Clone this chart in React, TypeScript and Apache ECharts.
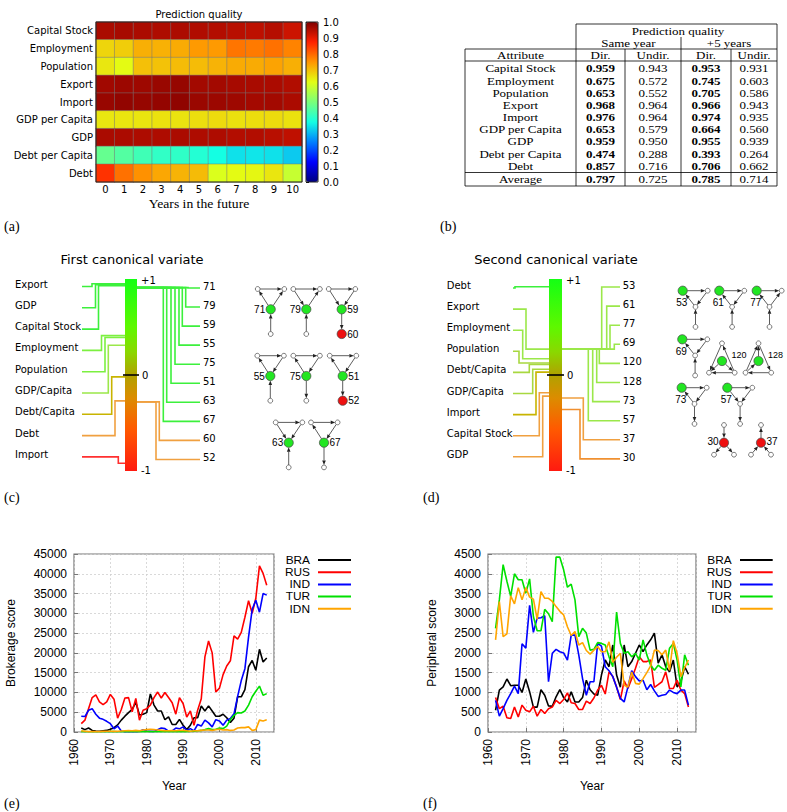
import React, { useEffect, useRef } from 'react';
import * as echarts from 'echarts';

// ---------------- (a) heatmap data ----------------
const heatYears = ['0', '1', '2', '3', '4', '5', '6', '7', '8', '9', '10'];
const heatAttributes = ['Capital Stock', 'Employment', 'Population', 'Export', 'Import', 'GDP per Capita', 'GDP', 'Debt per Capita', 'Debt'];
const qCapitalStock = [0.959, 0.962, 0.958, 0.955, 0.957, 0.953, 0.95, 0.945, 0.94, 0.948, 0.925];
const qEmployment = [0.675, 0.685, 0.72, 0.718, 0.725, 0.745, 0.745, 0.785, 0.78, 0.79, 0.77];
const qPopulation = [0.653, 0.63, 0.7, 0.698, 0.705, 0.705, 0.715, 0.725, 0.725, 0.735, 0.72];
const qExport = [0.968, 0.972, 0.97, 0.975, 0.978, 0.966, 0.966, 0.962, 0.96, 0.958, 0.952];
const qImport = [0.976, 0.982, 0.978, 0.98, 0.984, 0.974, 0.972, 0.97, 0.965, 0.966, 0.958];
const qGdpPerCapita = [0.653, 0.655, 0.656, 0.66, 0.658, 0.664, 0.668, 0.662, 0.666, 0.668, 0.66];
const qGdp = [0.959, 0.958, 0.956, 0.955, 0.958, 0.955, 0.955, 0.95, 0.951, 0.945, 0.938];
const qDebtPerCapita = [0.474, 0.452, 0.428, 0.41, 0.408, 0.393, 0.375, 0.345, 0.35, 0.345, 0.322];
const qDebt = [0.857, 0.79, 0.755, 0.73, 0.715, 0.706, 0.615, 0.63, 0.635, 0.655, 0.59];
const heatRows = [qCapitalStock, qEmployment, qPopulation, qExport, qImport, qGdpPerCapita, qGdp, qDebtPerCapita, qDebt];
const colorbarMin = 0;
const colorbarMax = 1;
const colorbarStep = 0.1;

// ---------------- (b) table data ----------------
const tableTitle = 'Prediction quality';
const tableGroups = ['Same year', '+5 years'];
const tableColumns = ['Attribute', 'Dir.', 'Undir.', 'Dir.', 'Undir.'];
const sameYearDir = ['0.959', '0.675', '0.653', '0.968', '0.976', '0.653', '0.959', '0.474', '0.857'];
const sameYearUndir = ['0.943', '0.572', '0.552', '0.964', '0.964', '0.579', '0.950', '0.288', '0.716'];
const plus5Dir = ['0.953', '0.745', '0.705', '0.966', '0.974', '0.664', '0.955', '0.393', '0.706'];
const plus5Undir = ['0.931', '0.603', '0.586', '0.943', '0.935', '0.560', '0.939', '0.264', '0.662'];
const averageLabel = 'Average';
const averageRow = ['0.797', '0.725', '0.785', '0.714'];

// ---------------- (c) / (d) canonical variates ----------------
const firstLeftNames = ['Export', 'GDP', 'Capital Stock', 'Employment', 'Population', 'GDP/Capita', 'Debt/Capita', 'Debt', 'Import'];
const firstLeftValues = [0.95, 0.94, 0.93, 0.41, 0.39, 0.31, -0.02, -0.27, -0.92];
const firstRightIds = ['71', '79', '59', '55', '75', '51', '63', '67', '60', '52'];
const firstRightValues = [0.91, 0.91, 0.91, 0.91, 0.91, 0.91, 0.91, 0.91, -0.28, -0.28];
const secondLeftNames = ['Debt', 'Export', 'Employment', 'Population', 'Debt/Capita', 'GDP/Capita', 'Import', 'Capital Stock', 'GDP'];
const secondLeftValues = [0.92, 0.27, 0.17, 0.125, 0.11, 0.06, 0.03, -0.185, -0.22];
const secondRightIds = ['53', '61', '77', '69', '120', '128', '73', '57', '37', '30'];
const secondRightValues = [0.27, 0.27, 0.27, 0.27, 0.27, 0.27, 0.27, 0.27, -0.24, -0.36];

const motifsFirst = [
  { id: '71', kind: 'fork', edges: [['TL', 'TR'], ['C', 'TL'], ['C', 'TR'], ['B', 'C']] },
  { id: '79', kind: 'fork', edges: [['TL', 'TR'], ['TL', 'C'], ['C', 'TR'], ['B', 'C']] },
  { id: '59', kind: 'fork', child: '60', edges: [['TL', 'TR'], ['TL', 'C'], ['TR', 'C'], ['C', 'B']] },
  { id: '55', kind: 'fork', edges: [['TL', 'TR'], ['C', 'TL'], ['TR', 'C'], ['B', 'C']] },
  { id: '75', kind: 'fork', edges: [['TL', 'TR'], ['C', 'TL'], ['TR', 'C'], ['C', 'B']] },
  { id: '51', kind: 'fork', child: '52', edges: [['TL', 'TR'], ['C', 'TL'], ['TR', 'C'], ['C', 'B']] },
  { id: '63', kind: 'fork', edges: [['TL', 'TR'], ['TL', 'C'], ['TR', 'C'], ['B', 'C']] },
  { id: '67', kind: 'fork', edges: [['TL', 'TR'], ['C', 'TL'], ['TR', 'C'], ['C', 'B']] },
];
const motifsSecond = [
  { id: '53', kind: 'wedge', edges: [['G', 'TR'], ['M', 'G'], ['TR', 'M'], ['B', 'M']] },
  { id: '61', kind: 'wedge', edges: [['G', 'TR'], ['M', 'G'], ['TR', 'M'], ['B', 'M']] },
  { id: '77', kind: 'wedge', edges: [['G', 'TR'], ['M', 'G'], ['M', 'TR'], ['B', 'M']] },
  { id: '69', kind: 'wedge', edges: [['G', 'TR'], ['M', 'G'], ['TR', 'M'], ['B', 'M']] },
  { id: '120', kind: 'tri', edges: [['Top', 'BL'], ['BR', 'Top'], ['BR', 'BL'], ['G', 'BL'], ['G', 'BR']] },
  { id: '128', kind: 'tri', edges: [['BL', 'Top'], ['Top', 'BR'], ['BR', 'BL'], ['G', 'Top'], ['BL', 'G']] },
  { id: '73', kind: 'wedge', edges: [['G', 'TR'], ['M', 'G'], ['TR', 'M'], ['M', 'B']] },
  { id: '57', kind: 'wedge', edges: [['G', 'TR'], ['G', 'M'], ['TR', 'M'], ['M', 'B']] },
  { id: '30', kind: 'star', edges: [['Top', 'R'], ['R', 'BL'], ['R', 'BR']] },
  { id: '37', kind: 'star', edges: [['R', 'Top'], ['BL', 'R'], ['BR', 'R']] },
];

// ---------------- (e) / (f) time series ----------------
const years = Array.from({ length: 52 }, (_, i) => 1962 + i);
const countries = ['BRA', 'RUS', 'IND', 'TUR', 'IDN'];
const brokerageBRA = [1000, 600, 1000, 400, 250, 200, 300, 400, 700, 1100,
  1800, 3000, 4000, 4900, 5700, 7500, 4300, 4500, 4900, 9600,
  6800, 5300, 5300, 3100, 3800, 1900, 1900, 3200, 1700, 600,
  1700, 3600, 3600, 6600, 5300, 6600, 5300, 4000, 4000, 4500,
  3600, 2400, 3500, 8900, 8900, 10700, 16500, 18100, 15600, 20900,
  17700, 18700];
const brokerageRUS = [2100, 3000, 5900, 8700, 9400, 7600, 6900, 7600, 9500, 8300,
  3500, 5700, 8600, 8700, 5100, 8500, 3000, 5500, 5900, 6800,
  8700, 10100, 8600, 10000, 8700, 7400, 4500, 8700, 7200, 3800,
  5300, 1700, 5500, 8400, 19000, 23000, 20000, 10100, 11100, 14500,
  16700, 18000, 24300, 23500, 25200, 29000, 33200, 30000, 33800, 42000,
  40100, 37100];
const brokerageIND = [4000, 3900, 5500, 5900, 4500, 3500, 3200, 2700, 2100, 800,
  1500, 250, 100, 100, 50, 100, 150, 600, 250, 150,
  150, 600, 1000, 850, 200, 300, 1000, 800, 1300, 400,
  850, 300, 1900, 1500, 3000, 2300, 1300, 3100, 2800, 1700,
  3000, 3400, 4600, 9000, 13000, 16000, 24000, 31000, 33300, 30300,
  35000, 34600];
const brokerageTUR = [100, 100, 50, 50, 50, 50, 50, 50, 100, 100,
  50, 50, 50, 50, 50, 50, 50, 100, 100, 100,
  50, 50, 50, 50, 50, 50, 50, 100, 100, 100,
  150, 200, 300, 400, 600, 850, 600, 700, 1000, 850,
  1500, 3100, 4200, 4900, 4800, 5300, 6800, 8900, 10300, 11600,
  9300, 9700];
const brokerageIDN = [300, 200, 100, 100, 100, 100, 150, 200, 200, 150,
  200, 250, 300, 350, 300, 400, 300, 500, 600, 700,
  600, 500, 400, 300, 300, 350, 300, 400, 400, 300,
  200, 300, 300, 400, 500, 500, 400, 600, 700, 500,
  600, 400, 500, 1000, 1100, 1100, 1300, 400, 600, 3000,
  2800, 3100];

const peripheralBRA = [550, 1060, 1140, 1340, 1170, 1180, 1180, 1000, 1340, 1020,
  630, 630, 1070, 930, 660, 650, 890, 1070, 870, 760,
  1020, 760, 760, 870, 1310, 1070, 960, 930, 1440, 1820,
  1650, 2200, 1440, 1130, 2200, 1650, 1780, 1990, 2200, 2030,
  2200, 2330, 2500, 1740, 1950, 1650, 1520, 1820, 1140, 1270,
  1650, 1460];
const peripheralRUS = [870, 590, 650, 360, 340, 630, 380, 680, 550, 510,
  650, 400, 570, 470, 590, 630, 800, 720, 820, 990,
  740, 720, 570, 570, 780, 720, 860, 1060, 1180, 960,
  1520, 1400, 1140, 820, 1290, 1100, 1350, 1610, 1900, 1780,
  1780, 1820, 1130, 1200, 1270, 1520, 1100, 1100, 1310, 1060,
  970, 630];
const peripheralIND = [800, 400, 590, 800, 970, 1160, 970, 2230, 2120, 3200,
  2520, 2880, 2890, 2940, 1270, 1990, 2090, 2030, 2000, 1820,
  2450, 2450, 1950, 1350, 930, 1270, 1270, 2240, 2170, 1650,
  1550, 1400, 1130, 850, 760, 1140, 1550, 1400, 1290, 1310,
  1070, 1200, 1040, 900, 930, 950, 1060, 1000, 970, 1060,
  1060, 680];
const peripheralTUR = [2620, 3340, 4230, 3810, 3430, 4000, 3850, 3850, 3510, 3870,
  2920, 2560, 2560, 3100, 2990, 2790, 4420, 4420, 4100, 3660,
  3740, 3340, 2410, 2620, 2500, 2070, 2090, 2260, 2240, 2200,
  1900, 1650, 3030, 2240, 1990, 2030, 1900, 1990, 1820, 2330,
  1950, 1690, 1560, 1690, 1610, 1560, 2120, 2240, 1820, 1140,
  1950, 1690];
const peripheralIDN = [2330, 3300, 2410, 2480, 3440, 3240, 3650, 3340, 3650, 3410,
  3360, 2850, 3550, 3380, 3380, 3300, 3170, 3050, 2960, 2660,
  2440, 2540, 2200, 2260, 2060, 1970, 2070, 2160, 2030, 2030,
  2280, 1760, 1890, 1990, 1180, 1140, 1520, 1230, 1210, 1350,
  1500, 1670, 2070, 2060, 1950, 2070, 1560, 2310, 1990, 1400,
  1630, 1820];
const brokerageSeries = [brokerageBRA, brokerageRUS, brokerageIND, brokerageTUR, brokerageIDN];
const peripheralSeries = [peripheralBRA, peripheralRUS, peripheralIND, peripheralTUR, peripheralIDN];

// ---------------- styles ----------------
const countryColors = ['#000000', '#ff0000', '#0000ff', '#00e000', '#ffa500'];
const jet = ['#000080', '#0000ff', '#0080ff', '#14ffe3', '#7aff7a', '#e3ff14', '#ff9600', '#ff2100', '#800000'];
const SANS = '"DejaVu Sans"';
const ARIAL = '"Liberation Sans"';
const SERIF = '"Liberation Serif"';

function connectorColor(v: number) {
  if (v >= 0.85) return '#3cf03c';
  if (v >= 0.35) return '#7cf040';
  if (v >= 0.15) return '#9be84a';
  if (v >= 0.05) return '#a8d840';
  if (v >= -0.1) return '#c8b400';
  if (v >= -0.3) return '#f0a040';
  if (v >= -0.6) return '#f09030';
  return '#ff3030';
}

function buildGraphic() {
  const g: any[] = [];
  const txt = (x: number, y: number, text: string, font: string, align = 'left', extra: any = {}) =>
    g.push({
      type: 'text', x, y, z: 20, silent: true, ...extra,
      style: { text, font, fill: '#000', align, verticalAlign: 'middle', textAlign: align, textVerticalAlign: 'middle' },
    });
  const ln = (x1: number, y1: number, x2: number, y2: number, stroke = '#000', lw = 1, z = 20) =>
    g.push({ type: 'line', z, silent: true, shape: { x1, y1, x2, y2 }, style: { stroke, lineWidth: lw } });

  // ---- (a) ----
  txt(199, 14, 'Prediction quality', `10px ${SANS}`, 'center');
  txt(199, 204, 'Years in the future', `13px ${SERIF}`, 'center', { scaleX: 1.05 });
  g.push({ type: 'rect', z: 20, silent: true, shape: { x: 96, y: 22, width: 206, height: 160 }, style: { fill: 'none', stroke: '#222', lineWidth: 1 } });
  g.push({ type: 'rect', z: 20, silent: true, shape: { x: 306, y: 22, width: 12, height: 160 }, style: { fill: 'none', stroke: '#222', lineWidth: 1 } });
  txt(4, 226, '(a)', `14px ${SERIF}`);

  // ---- (b) table ----
  const colX = [520.5, 600.5, 653, 706, 754];
  const tf = `11px ${SERIF}`;
  const tfb = `bold 11px ${SERIF}`;
  const wide = { scaleX: 1.18 };
  txt(678, 31, tableTitle, tf, 'center', wide);
  txt(628.5, 43, tableGroups[0], tf, 'center', wide);
  txt(729, 43, tableGroups[1], tf, 'center', wide);
  tableColumns.forEach((c, i) => txt(colX[i], 55, c, tf, 'center', wide));
  const rowY0 = 68.7, rowDy = 12.17;
  heatAttributes.forEach((name, r) => {
    const y = rowY0 + r * rowDy;
    txt(colX[0], y, name, tf, 'center', wide);
    txt(colX[1], y, sameYearDir[r], tfb, 'center', wide);
    txt(colX[2], y, sameYearUndir[r], tf, 'center', wide);
    txt(colX[3], y, plus5Dir[r], tfb, 'center', wide);
    txt(colX[4], y, plus5Undir[r], tf, 'center', wide);
  });
  txt(colX[0], 179.3, averageLabel, tf, 'center', wide);
  averageRow.forEach((v, i) => txt(colX[i + 1], 179.3, v, i % 2 === 0 ? tfb : tf, 'center', wide));
  ln(576, 24, 777, 24, '#000', 0.8);
  ln(465, 49, 777, 49, '#000', 0.8);
  ln(465, 61, 777, 61, '#000', 0.8);
  ln(465, 172.5, 777, 172.5, '#000', 0.8);
  ln(465, 186, 777, 186, '#000', 0.8);
  ln(465, 49, 465, 186, '#000', 0.8);
  ln(576, 24, 576, 186, '#000', 0.8);
  ln(625, 49, 625, 186, '#000', 0.8);
  ln(681, 37, 681, 186, '#000', 0.8);
  ln(731, 49, 731, 186, '#000', 0.8);
  ln(777, 24, 777, 186, '#000', 0.8);
  txt(440, 226, '(b)', `14px ${SERIF}`);

  // ---- (c) / (d) ----
  const barStops = [
    { offset: 0, color: '#14ff14' },
    { offset: 0.25, color: '#5ef800' },
    { offset: 0.38, color: '#8ad800' },
    { offset: 0.5, color: '#b0a200' },
    { offset: 0.62, color: '#dc8c00' },
    { offset: 0.78, color: '#ff5a00' },
    { offset: 1, color: '#ff1a10' },
  ];
  const canon = (L: any, title: string, lNames: string[], lVals: number[], rIds: string[], rVals: number[]) => {
    const vy = (v: number) => L.top + ((1 - v) / 2) * (L.bottom - L.top);
    txt(L.titleX, 259, title, `13px ${SANS}`, 'center');
    g.push({
      type: 'rect', z: 8, silent: true,
      shape: { x: L.barX, y: L.top, width: L.barW, height: L.bottom - L.top },
      style: { fill: new echarts.graphic.LinearGradient(0, 0, 0, 1, barStops) },
    });
    ln(L.barX - 2, vy(0), L.barX + L.barW + 2, vy(0), '#000', 1.6, 9);
    const lx = L.barX + L.barW + 4;
    txt(lx, vy(1) + 1, '+1', `10px ${SANS}`);
    txt(lx + 1, vy(0), '0', `10px ${SANS}`);
    txt(lx, vy(-1) - 1, '-1', `10px ${SANS}`);
    lNames.forEach((name, i) => {
      const ly = L.lY0 + i * L.lDy;
      txt(L.lTextX, ly, name, `10px ${SANS}`);
      const y = ly + 2.5;
      const t = vy(lVals[i]);
      g.push({
        type: 'polyline', z: 5, silent: true,
        shape: { points: [[L.lLineX, y], [L.lLanes[i], y], [L.lLanes[i], t], [L.barX, t]] },
        style: { stroke: connectorColor(lVals[i]), lineWidth: 1.6, fill: 'none' },
      });
    });
    rIds.forEach((id, i) => {
      const ly = L.rY0 + i * L.rDy;
      txt(L.rTextX, ly, id, `10px ${SANS}`);
      const y = ly + 1.5;
      const t = vy(rVals[i]);
      g.push({
        type: 'polyline', z: 5, silent: true,
        shape: { points: [[L.barX + L.barW, t], [L.rLanes[i], t], [L.rLanes[i], y], [L.rLineEnd, y]] },
        style: { stroke: connectorColor(rVals[i]), lineWidth: 1.6, fill: 'none' },
      });
    });
  };
  canon({
    titleX: 132, barX: 125, barW: 12, top: 279, bottom: 471,
    lTextX: 15, lLineX: 82, lY0: 284, lDy: 21.3, lLanes: [92, 95.5, 98.5, 101.5, 105, 108.3, 111.7, 115, 118.3],
    rTextX: 203, rLineEnd: 200, rY0: 286.5, rDy: 19.05, rLanes: [188, 185.7, 182.3, 179, 175, 171, 166.7, 163.3, 159.3, 156],
  }, 'First canonical variate', firstLeftNames, firstLeftValues, firstRightIds, firstRightValues);
  canon({
    titleX: 556, barX: 549, barW: 13, top: 279, bottom: 471,
    lTextX: 446.7, lLineX: 513, lY0: 285.5, lDy: 21.1, lLanes: [515, 526, 522.7, 519, 529.3, 532.7, 536, 539.3, 542.7],
    rTextX: 622.7, rLineEnd: 620, rY0: 285.5, rDy: 19.1, rLanes: [601.7, 606.7, 610, 614.3, 599.3, 596.7, 592.7, 588.3, 583.3, 580],
  }, 'Second canonical variate', secondLeftNames, secondLeftValues, secondRightIds, secondRightValues);
  txt(4, 497, '(c)', `14px ${SERIF}`);
  txt(423, 497, '(d)', `14px ${SERIF}`);

  // motif glyphs
  const templates: any = {
    fork: { TL: [-13, -20.3, 's'], TR: [13.6, -20.3, 's'], C: [0, 0, 'g'], B: [0, 24.7, 's'] },
    wedge: { G: [0, 0, 'g'], TR: [25, 0, 's'], M: [12.8, 16.2, 's'], B: [12.8, 36.2, 's'] },
    tri: { G: [0, 0, 'g'], Top: [0, -17.7, 's'], BL: [-13, 11.7, 's'], BR: [12.7, 11.7, 's'] },
    star: { R: [0, 0, 'r'], Top: [0, -17.7, 's'], BL: [-10, 12, 's'], BR: [10, 12, 's'] },
  };
  const radius = (t: string) => (t === 's' ? 2.4 : 4.6);
  const drawMotif = (m: any, cx: number, cy: number, side: string) => {
    const tpl = templates[m.kind];
    const nodes: any = {};
    Object.keys(tpl).forEach((k) => {
      let type = tpl[k][2];
      if (m.kind === 'fork' && k === 'B' && m.child) type = 'r';
      nodes[k] = { x: cx + tpl[k][0], y: cy + tpl[k][1], type };
    });
    m.edges.forEach(([s, t]: string[]) => {
      const a = nodes[s], b = nodes[t];
      const dx = b.x - a.x, dy = b.y - a.y;
      const len = Math.sqrt(dx * dx + dy * dy);
      const ux = dx / len, uy = dy / len;
      const sx = a.x + ux * radius(a.type), sy = a.y + uy * radius(a.type);
      const tx = b.x - ux * radius(b.type), ty = b.y - uy * radius(b.type);
      const bx = tx - ux * 4.5, by = ty - uy * 4.5;
      ln(sx, sy, bx, by, '#333', 0.8, 12);
      g.push({
        type: 'polygon', z: 12, silent: true,
        shape: { points: [[tx, ty], [bx - uy * 1.8, by + ux * 1.8], [bx + uy * 1.8, by - ux * 1.8]] },
        style: { fill: '#222' },
      });
    });
    Object.keys(nodes).forEach((k) => {
      const n = nodes[k];
      const fill = n.type === 'g' ? '#22e622' : n.type === 'r' ? '#ee1010' : '#ffffff';
      g.push({
        type: 'circle', z: 13, silent: true,
        shape: { cx: n.x, cy: n.y, r: radius(n.type) },
        style: { fill, stroke: '#444', lineWidth: 0.7 },
      });
    });
    const f = `10px ${ARIAL}`;
    if (m.kind === 'fork') {
      if (side === 'left') txt(cx - 5.5, cy, m.id, f, 'right');
      else txt(cx + 5.5, cy, m.id, f, 'left');
      if (m.child) txt(cx + 5.5, cy + 24.7, m.child, f, 'left');
    } else if (m.kind === 'wedge') {
      txt(cx - 1, cy + 12, m.id, f, 'center');
    } else if (m.kind === 'tri') {
      txt(cx + 9.5, cy - 6, m.id, `9px ${ARIAL}`, 'left');
    } else {
      if (side === 'left') txt(cx - 5.5, cy - 1, m.id, f, 'right');
      else txt(cx + 5.5, cy - 1, m.id, f, 'left');
    }
  };
  const slotsFirst = [[270.7, 309.3, 'left'], [306.3, 309.3, 'left'], [341.7, 309.3, 'right'], [270.3, 376, 'left'], [306.3, 376, 'left'], [342.7, 376, 'right'], [288.7, 442.7, 'left'], [324, 442.7, 'right']];
  motifsFirst.forEach((m, i) => drawMotif(m, slotsFirst[i][0] as number, slotsFirst[i][1] as number, slotsFirst[i][2] as string));
  const slotsSecond = [[682.7, 290.7, ''], [719.3, 290.7, ''], [756.7, 290.7, ''], [682.3, 339.3, ''], [722, 361, ''], [758.5, 361, ''], [681.7, 387.7, ''], [727.3, 387.7, ''], [724, 442.7, 'left'], [761, 442.7, 'right']];
  motifsSecond.forEach((m, i) => drawMotif(m, slotsSecond[i][0] as number, slotsSecond[i][1] as number, slotsSecond[i][2] as string));

  // ---- (e) / (f) legends and titles ----
  const legend = (textRight: number, lineX1: number, lineX2: number) => {
    countries.forEach((c, i) => {
      const y = 560 + i * 12.2;
      txt(textRight, y, c, `10.5px ${ARIAL}`, 'right', { scaleX: 1.13 });
      ln(lineX1, y, lineX2, y, countryColors[i], 2);
    });
  };
  legend(310, 318, 351);
  legend(731.7, 740, 772.7);
  txt(174, 786, 'Year', `12px ${ARIAL}`, 'center');
  txt(592, 786, 'Year', `12px ${ARIAL}`, 'center');
  txt(11, 643, 'Brokerage score', `12px ${ARIAL}`, 'center', { rotation: Math.PI / 2 });
  txt(432, 643, 'Peripheral score', `12px ${ARIAL}`, 'center', { rotation: Math.PI / 2 });
  txt(4, 803, '(e)', `14px ${SERIF}`);
  txt(423, 803, '(f)', `14px ${SERIF}`);
  return g;
}

function lineAxes(gridIndex: number, yMax: number, yStep: number) {
  const x = {
    gridIndex, type: 'value', min: 1960, max: 2015, interval: 10,
    axisLabel: {
      rotate: 90, fontSize: 12, fontFamily: 'Liberation Sans', color: '#000', margin: 7, showMaxLabel: false,
      formatter: (v: number) => (v % 10 === 0 ? String(v) : ''),
    },
    axisTick: { show: true, inside: true, length: 4, lineStyle: { color: '#777' } },
    axisLine: { show: false },
    splitLine: { show: true, lineStyle: { color: '#cfcfcf', type: [2, 2], width: 0.8 } },
  };
  const y = {
    gridIndex, type: 'value', min: 0, max: yMax, interval: yStep,
    axisLabel: { fontSize: 12, fontFamily: 'Liberation Sans', color: '#000', margin: 7, formatter: (v: number) => String(v) },
    axisTick: { show: true, inside: true, length: 4, lineStyle: { color: '#777' } },
    axisLine: { show: false },
    splitLine: { show: true, lineStyle: { color: '#cfcfcf', type: [2, 2], width: 0.8 } },
  };
  return { x, y };
}

function buildOption() {
  const e = lineAxes(2, 45000, 5000);
  const f = lineAxes(3, 4500, 500);
  const heatData: any[] = [];
  heatRows.forEach((row, r) => row.forEach((v, c) => heatData.push([c, r, v])));
  const lineSeries = (axis: number, sets: number[][]) =>
    sets.map((arr, i) => ({
      type: 'line', name: countries[i], xAxisIndex: axis, yAxisIndex: axis,
      data: years.map((yr, k) => [yr, arr[k]]),
      symbol: 'none', showSymbol: false,
      lineStyle: { color: countryColors[i], width: 1.6 }, itemStyle: { color: countryColors[i] },
      emphasis: { disabled: true },
    }));
  return {
    animation: false,
    textStyle: { fontFamily: 'DejaVu Sans' },
    grid: [
      { left: 96, top: 22, width: 206, height: 160, show: false },
      { left: 306, top: 22, width: 12, height: 160, show: false },
      { left: 74, top: 554, width: 200, height: 178, show: true, borderColor: '#777', borderWidth: 1.2, backgroundColor: 'transparent' },
      { left: 488, top: 554, width: 208, height: 178, show: true, borderColor: '#777', borderWidth: 1.2, backgroundColor: 'transparent' },
    ],
    xAxis: [
      {
        gridIndex: 0, type: 'category', data: heatYears,
        axisLabel: { fontSize: 10, color: '#000', margin: 2 },
        axisTick: { show: false }, axisLine: { show: false }, splitLine: { show: false },
      },
      { gridIndex: 1, type: 'value', show: false, min: 0, max: 1 },
      e.x, f.x,
    ],
    yAxis: [
      {
        gridIndex: 0, type: 'category', data: heatAttributes, inverse: true,
        axisLabel: { fontSize: 10, color: '#000', margin: 3 },
        axisTick: { show: false }, axisLine: { show: false }, splitLine: { show: false },
      },
      {
        gridIndex: 1, type: 'value', min: colorbarMin, max: colorbarMax, interval: colorbarStep, position: 'right',
        axisLabel: { fontSize: 10, color: '#000', margin: 5, formatter: (v: number) => v.toFixed(1) },
        axisTick: { show: true, length: 3, lineStyle: { color: '#000' } },
        axisLine: { show: false }, splitLine: { show: false },
      },
      e.y, f.y,
    ],
    visualMap: {
      type: 'continuous', min: colorbarMin, max: colorbarMax, seriesIndex: 0,
      left: 306, top: 22, itemWidth: 12, itemHeight: 160, padding: 0,
      calculable: false, hoverLink: false, inRange: { color: jet },
    },
    series: [
      {
        type: 'heatmap', xAxisIndex: 0, yAxisIndex: 0, data: heatData,
        itemStyle: { borderColor: 'rgba(120,120,120,0.7)', borderWidth: 0.7 },
        emphasis: { disabled: true },
      },
      ...lineSeries(2, brokerageSeries),
      ...lineSeries(3, peripheralSeries),
    ],
    graphic: { elements: buildGraphic() },
  };
}

export default function App() {
  const ref = useRef<HTMLDivElement>(null);
  useEffect(() => {
    if (!ref.current) return;
    const chart = echarts.init(ref.current, undefined, { renderer: 'svg' });
    chart.setOption(buildOption() as any);
    return () => chart.dispose();
  }, []);
  return <div ref={ref} style={{ position: 'absolute', left: 0, top: 0, width: 787, height: 812, background: '#fff' }} />;
}
